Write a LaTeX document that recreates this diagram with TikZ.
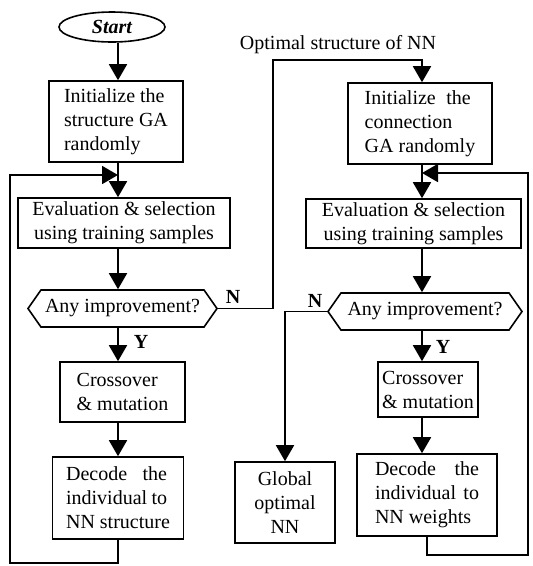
\documentclass[tikz,border=0pt]{standalone}
\usepackage{fontspec}
\setmainfont{Liberation Serif}
\usetikzlibrary{positioning}
\usetikzlibrary{arrows.meta, shapes.geometric, shapes.symbols}

\newcommand{\spreadline}[2]{\makebox[#1][s]{#2}}

\tikzset{
  box/.style={draw, line width=1.6pt, inner sep=0pt, font=\fontsize{20}{24}\selectfont},
  startnode/.style={draw, ellipse, line width=1.6pt, inner sep=0pt, minimum width=106pt, minimum height=30pt, font=\fontsize{20}{24}\selectfont\bfseries\itshape},
  decision/.style={draw, signal, signal to=west and east, signal pointer angle=110, line width=1.6pt, inner sep=0pt, minimum height=37pt, font=\fontsize{20}{24}\selectfont},
  lbl/.style={inner sep=0pt, font=\fontsize{20}{24}\selectfont\bfseries},
  flow/.style={line width=1.8pt, -{Triangle[length=16pt,width=18pt]}},
  line/.style={line width=1.8pt}
}

\begin{document}
\begin{tikzpicture}[x=1pt, y=-1pt]
  \useasboundingbox (0,0) rectangle (533,566);

  % structure GA
  \coordinate (axA) at (118,0);
  \node[startnode] (start) at (112,27) {Start};
  \node[box, minimum width=134pt, minimum height=81pt, align=left] (initA) at (116,121.5) {Initialize the\\structure GA\\randomly};
  \node[box, minimum width=212pt, minimum height=50pt, align=center] (evalA) at (124,223) {Evaluation \& selection\\using training samples};
  \node[decision, minimum width=189pt] (testA) at (122.5,308.5) {Any improvement?};
  \node[box, minimum width=125pt, minimum height=60pt, align=left] (crossA) at (122.5,392) {Crossover\\\& mutation};
  \node[box, minimum width=131pt, minimum height=82pt, align=left] (decodeA) at (118,498) {\spreadline{101pt}{Decode the}\\\spreadline{101pt}{individual to}\\NN structure};
  \node[lbl] (nA) at (233,297) {N};
  \node[lbl] (yA) at (141,342) {Y};

  % connection GA
  \coordinate (axB) at (422,0);
  \node[box, minimum width=144pt, minimum height=81pt, align=left] (initB) at (420,123.5) {\spreadline{106pt}{Initialize the}\\connection\\GA randomly};
  \node[box, minimum width=215pt, minimum height=49pt, align=center] (evalB) at (413.5,223.5) {Evaluation \& selection\\using training samples};
  \node[decision, minimum width=194pt] (testB) at (425,311.5) {Any improvement?};
  \node[box, minimum width=100pt, minimum height=55pt, align=left] (crossB) at (428,389.5) {Crossover\\\& mutation};
  \node[box, minimum width=140pt, minimum height=82pt, align=left] (decodeB) at (427,495) {\spreadline{104pt}{Decode the}\\\spreadline{104pt}{individual to}\\NN weights};
  \node[box, minimum width=100pt, minimum height=81pt, align=center] (globalB) at (285,502.5) {Global\\optimal\\NN};
  \node[lbl] (nB) at (315,301) {N};
  \node[lbl] (yB) at (443,347) {Y};
  \node[inner sep=0pt, font=\fontsize{20}{24}\selectfont] (optlbl) at (338,45) {Optimal structure of NN};

  \coordinate (backA) at (118,175);
  \coordinate (loopA) at (10,563);
  \coordinate (backB) at (422,173);
  \coordinate (loopB) at (528,555);
  \coordinate (turn) at (273,60);

  % left flow
  \draw[flow] (start.south -| axA) -- (initA.north -| axA);
  \draw[line] (initA.south -| axA) -- (backA);
  \draw[flow] (backA) -- (evalA.north -| axA);
  \draw[flow] (evalA.south -| axA) -- (testA.north -| axA);
  \draw[flow] (testA.south -| axA) -- (crossA.north -| axA);
  \draw[flow] (crossA.south -| axA) -- (decodeA.north -| axA);
  \draw[flow] (decodeA.south) |- (loopA) |- (backA);
  \draw[flow] (testA.east) -| (turn) -| (initB.north -| axB);

  % right flow
  \draw[line] (initB.south -| axB) -- (backB);
  \draw[flow] (backB) -- (evalB.north -| axB);
  \draw[flow] (evalB.south -| axB) -- (testB.north -| axB);
  \draw[flow] (testB.south -| axB) -- (crossB.north -| axB);
  \draw[flow] (crossB.south -| axB) -- (decodeB.north -| axB);
  \draw[flow] (decodeB.south) |- (loopB) |- (backB);
  \draw[flow] (testB.west) -| (globalB.north);
\end{tikzpicture}
\end{document}
